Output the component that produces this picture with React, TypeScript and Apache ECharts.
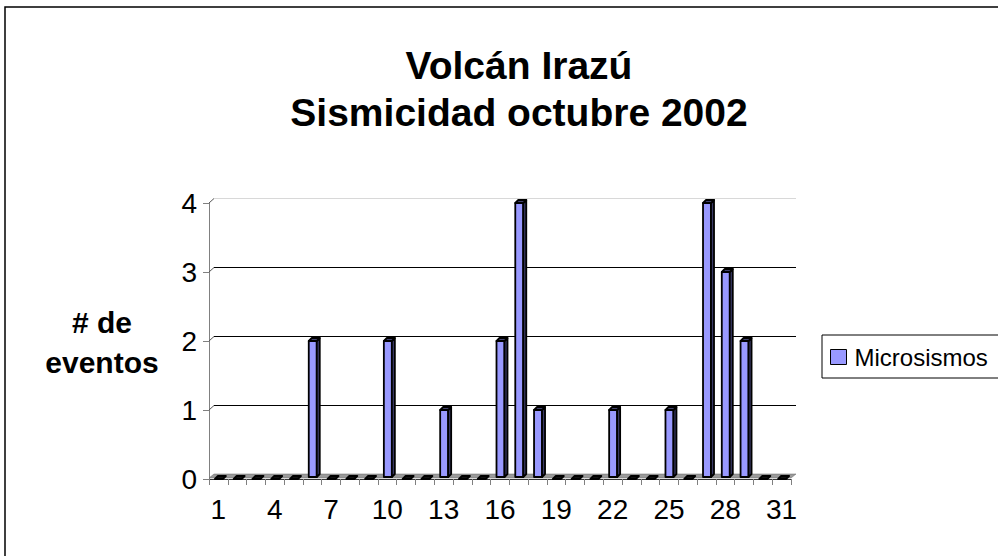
import React, { useEffect, useRef } from "react";
import * as echarts from "echarts";

const titleLines = ["Volcán Irazú", "Sismicidad octubre 2002"];
const yAxisTitle = ["# de", "eventos"];
const seriesName = "Microsismos";
const days = [
  "1", "2", "3", "4", "5", "6", "7", "8", "9", "10",
  "11", "12", "13", "14", "15", "16", "17", "18", "19", "20",
  "21", "22", "23", "24", "25", "26", "27", "28", "29", "30", "31",
];
const microsismos = [
  0, 0, 0, 0, 0, 2, 0, 0, 0, 2,
  0, 0, 1, 0, 0, 2, 4, 1, 0, 0,
  0, 1, 0, 0, 1, 0, 4, 3, 2, 0, 0,
];
const yTicks = [1, 2, 3, 4];

const FONT = "'Liberation Sans', Arial, Helvetica, sans-serif";
const WALL_DX = 5;
const WALL_DY = 5;
const BAR_W = 8;
const BAR_D = 3;

export default function App() {
  const ref = useRef<HTMLDivElement>(null);

  useEffect(() => {
    if (!ref.current) return;
    const chart = echarts.init(ref.current, null, { renderer: "svg" });

    const option: any = {
      animation: false,
      backgroundColor: "#ffffff",
      textStyle: { fontFamily: FONT },
      grid: { left: 209, top: 203, right: 207, bottom: 77, containLabel: false },
      legend: {
        data: [seriesName],
        left: 822,
        top: 335,
        orient: "vertical",
        icon: "rect",
        itemWidth: 16,
        itemHeight: 15,
        padding: [10, 12, 9, 8],
        borderColor: "#000",
        borderWidth: 1,
        backgroundColor: "#fff",
        itemStyle: { color: "#9999FF", borderColor: "#000", borderWidth: 1 },
        textStyle: { fontSize: 24, color: "#000", fontFamily: FONT, padding: [0, 0, 0, 3] },
      },
      xAxis: {
        type: "category",
        data: days,
        boundaryGap: true,
        axisLine: { show: true, lineStyle: { color: "#333", width: 1 } },
        axisTick: { show: true, interval: 0, length: 6, lineStyle: { color: "#808080" } },
        axisLabel: { interval: 2, fontSize: 28, color: "#000", margin: 16, fontFamily: FONT },
        splitLine: { show: false },
      },
      yAxis: {
        type: "value",
        min: 0,
        max: 4,
        interval: 1,
        axisLine: { show: true, lineStyle: { color: "#808080", width: 1 } },
        axisTick: { show: true, length: 6, lineStyle: { color: "#808080" } },
        axisLabel: { fontSize: 28, color: "#000", margin: 12, fontFamily: FONT },
        splitLine: { show: false },
      },
      graphic: [
        {
          type: "rect",
          shape: { x: 5, y: 7, width: 1100, height: 700 },
          style: { fill: "none", stroke: "#000", lineWidth: 1.5 },
          z: 0,
        },
        {
          type: "text",
          x: 519,
          y: 89,
          style: {
            text: titleLines.join("\n"),
            fontSize: 39,
            fontWeight: "bold",
            fontFamily: FONT,
            fill: "#000",
            textAlign: "center",
            textVerticalAlign: "middle",
            lineHeight: 47,
          },
        },
        {
          type: "text",
          x: 102,
          y: 342,
          style: {
            text: yAxisTitle.join("\n"),
            fontSize: 30,
            fontWeight: "bold",
            fontFamily: FONT,
            fill: "#000",
            textAlign: "center",
            textVerticalAlign: "middle",
            lineHeight: 40,
          },
        },
      ],
      series: [
        {
          name: "floor",
          type: "custom",
          clip: false,
          silent: true,
          z: 1,
          data: [[0, 0]],
          renderItem: (params: any, api: any) => {
            const cs = params.coordSys;
            const y0 = api.coord([0, 0])[1] - 1;
            const xl = cs.x;
            const xr = cs.x + cs.width;
            return {
              type: "polygon",
              shape: {
                points: [
                  [xl, y0],
                  [xr, y0],
                  [xr + WALL_DX, y0 - WALL_DY + 1],
                  [xl + WALL_DX, y0 - WALL_DY + 1],
                ],
              },
              style: { fill: "#9a9a9a", stroke: "#666", lineWidth: 0.5 },
            };
          },
        },
        {
          name: "wallGrid",
          type: "custom",
          clip: false,
          silent: true,
          z: 1,
          data: yTicks.map((v) => [0, v]),
          renderItem: (params: any, api: any) => {
            const cs = params.coordSys;
            const v = api.value(1);
            const y = api.coord([0, v])[1];
            const yl = Math.round(y - WALL_DY) + 0.5;
            const top = v === yTicks[yTicks.length - 1];
            const col = top ? "#d8d8d8" : "#000";
            return {
              type: "group",
              children: [
                {
                  type: "line",
                  shape: { x1: cs.x, y1: y, x2: cs.x + WALL_DX, y2: yl },
                  style: { stroke: "#555", lineWidth: 1 },
                },
                {
                  type: "line",
                  shape: {
                    x1: cs.x + WALL_DX,
                    y1: yl,
                    x2: cs.x + cs.width + WALL_DX,
                    y2: yl,
                  },
                  style: { stroke: col, lineWidth: 1 },
                },
              ],
            };
          },
        },
        {
          name: seriesName,
          type: "custom",
          clip: false,
          z: 3,
          itemStyle: { color: "#9999FF", borderColor: "#000" },
          encode: { x: 0, y: 1 },
          data: microsismos.map((v, i) => [i, v]),
          renderItem: (params: any, api: any) => {
            const idx = api.value(0);
            const v = api.value(1);
            const base = api.coord([idx, 0]);
            const top = api.coord([idx, v]);
            const x0 = base[0] - BAR_W / 2 + 0.5;
            const x1 = x0 + BAR_W;
            const yB = base[1] - 2;
            const yT = top[1];
            const stroke = { stroke: "#000", lineWidth: 1.8, lineJoin: "round" };
            const children: any[] = [];
            if (yB - yT > 0.5) {
              children.push({
                type: "rect",
                shape: { x: x0, y: yT, width: BAR_W, height: yB - yT },
                style: { fill: "#9999FF", ...stroke },
              });
              children.push({
                type: "polygon",
                shape: {
                  points: [
                    [x1, yB],
                    [x1 + BAR_D, yB - BAR_D],
                    [x1 + BAR_D, yT - BAR_D],
                    [x1, yT],
                  ],
                },
                style: { fill: "#3a3a66", ...stroke },
              });
            }
            children.push({
              type: "polygon",
              shape: {
                points: [
                  [x0, yT],
                  [x1, yT],
                  [x1 + BAR_D, yT - BAR_D],
                  [x0 + BAR_D, yT - BAR_D],
                ],
              },
              style: { fill: v > 0 ? "#44446e" : "#111", ...stroke },
            });
            return { type: "group", children };
          },
        },
      ],
    };

    chart.setOption(option);
    return () => chart.dispose();
  }, []);

  return (
    <div
      ref={ref}
      style={{ position: "fixed", left: 0, top: 0, width: 998, height: 556, background: "#fff" }}
    />
  );
}
